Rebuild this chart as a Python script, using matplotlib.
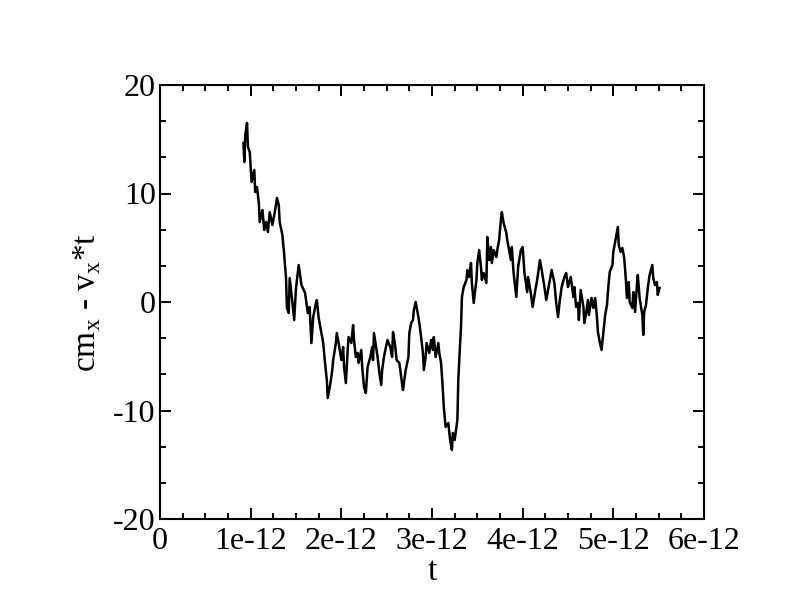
import matplotlib
matplotlib.use('Agg')
import matplotlib.pyplot as plt
import numpy as np
from matplotlib.ticker import MultipleLocator, FixedLocator, FixedFormatter

plt.rcParams['font.family'] = ['Liberation Serif', 'DejaVu Serif']
plt.rcParams['mathtext.fontset'] = 'custom'
plt.rcParams['mathtext.rm'] = 'Liberation Serif'
plt.rcParams['axes.unicode_minus'] = False

# time in units of 1e-12
t_ps = [0.92, 0.93, 0.94, 0.96, 0.97, 0.99, 1.00, 1.01, 1.04, 1.05,
        1.07, 1.09, 1.10, 1.13, 1.15, 1.17, 1.19, 1.21, 1.24, 1.27,
        1.29, 1.31, 1.32, 1.35, 1.37, 1.39, 1.40, 1.42, 1.43, 1.46,
        1.48, 1.50, 1.53, 1.56,
        1.60, 1.63, 1.65, 1.67, 1.69, 1.72, 1.73, 1.75, 1.78, 1.80,
        1.82, 1.84, 1.85, 1.88, 1.90, 1.91, 1.94, 1.95, 1.97, 2.00,
        2.02, 2.03, 2.05, 2.07, 2.08, 2.11, 2.13, 2.14, 2.16, 2.18,
        2.19, 2.22, 2.23, 2.25, 2.27, 2.29, 2.32, 2.34, 2.35, 2.36,
        2.40, 2.42, 2.44, 2.45, 2.47, 2.49, 2.51, 2.54, 2.56, 2.57,
        2.59, 2.61, 2.64, 2.66, 2.68, 2.69, 2.71, 2.74, 2.75, 2.77,
        2.79, 2.80, 2.82, 2.85, 2.86, 2.88, 2.90, 2.91, 2.93, 2.94,
        2.97, 2.99, 3.01, 3.02, 3.04, 3.07, 3.08, 3.10, 3.12, 3.13,
        3.15,
        3.18, 3.20, 3.22, 3.23, 3.25, 3.28, 3.29, 3.31, 3.32, 3.33,
        3.35, 3.38, 3.39, 3.41, 3.43, 3.44, 3.46, 3.49, 3.50, 3.52,
        3.54, 3.55, 3.57, 3.60, 3.61, 3.63, 3.65, 3.66, 3.68, 3.71,
        3.72, 3.74, 3.76, 3.77, 3.79, 3.82, 3.83, 3.85, 3.87, 3.88,
        3.90,
        3.93, 3.95, 3.98, 4.00, 4.02, 4.05, 4.06, 4.09, 4.11, 4.14,
        4.16, 4.19, 4.21, 4.24, 4.26, 4.28, 4.30, 4.32, 4.35, 4.37,
        4.39, 4.41, 4.43, 4.46, 4.48, 4.50, 4.53, 4.56, 4.57, 4.59,
        4.61, 4.62, 4.64, 4.67, 4.68, 4.70, 4.72,
        4.73, 4.76, 4.78, 4.80, 4.82, 4.83, 4.85, 4.87, 4.89, 4.91,
        4.93, 4.94, 4.96, 4.99, 5.00, 5.02, 5.04, 5.05, 5.06, 5.08,
        5.10, 5.12, 5.14, 5.15, 5.17, 5.18, 5.21, 5.22, 5.24, 5.26,
        5.27, 5.29, 5.32, 5.33, 5.34, 5.36, 5.38, 5.40, 5.43, 5.44,
        5.46, 5.48, 5.49, 5.51]

cm_x = [14.65, 12.90, 15.39, 16.50, 14.29, 13.82, 12.35, 11.06, 12.17, 10.14,
        10.60, 9.12, 7.37, 8.48, 6.64, 7.37, 6.45, 8.29, 7.10, 8.48,
        9.59, 8.94, 7.37, 6.18, 4.33, 2.21, -0.55, -1.01, 2.21, 0.00,
        -1.66, 1.29, 3.41, 1.57,
        0.83, -1.01, -0.46, -3.78, -1.38, -0.09, 0.18, -1.47, -2.86, -3.78,
        -5.62, -7.19, -8.85, -7.47, -6.27, -5.35, -3.78, -2.86, -3.78, -5.35,
        -4.15, -5.99, -7.47, -4.42, -3.23, -3.78, -2.12, -3.50, -5.07, -4.70,
        -5.62, -4.42, -5.99, -7.83, -8.39, -5.99, -5.07, -4.15, -5.35, -2.86,
        -5.07, -6.54, -7.65, -6.27, -5.07, -4.24, -3.50, -4.15, -5.07, -2.76,
        -3.78, -5.35, -5.62, -6.91, -8.11, -7.47, -6.27, -5.07, -2.86, -1.94,
        -1.66, -0.74, 0.00, -1.38, -1.94, -3.23, -4.70, -6.27, -5.07, -3.78,
        -4.70, -3.50, -4.42, -3.23, -5.07, -3.78, -4.70, -5.62, -8.11, -9.68,
        -11.52,
        -11.15, -12.72, -13.64, -12.07, -12.72, -10.88, -7.19, -3.78, -2.30, 0.46,
        1.38, 2.03, 2.95, 2.30, 3.59, 1.75, -0.09, 2.03, 3.59, 4.79,
        3.23, 2.03, 2.67, 1.75, 5.99, 3.87, 5.07, 3.59, 4.79, 4.15,
        4.79, 5.71, 7.56, 8.29, 7.28, 6.36, 5.71, 4.79, 3.87, 5.07,
        2.67,
        0.46, 3.23, 4.79, 5.07, 2.67, 0.92, 2.30, 0.83, -0.46, 1.11,
        2.03, 3.87, 2.95, 1.38, 0.18, 1.11, 2.03, 2.95, 1.75, -0.09,
        -1.38, 0.18, 1.38, 2.30, 2.67, 1.38, 2.30, 0.46, 1.38, -0.46,
        -0.09, -1.66, 1.11, -0.46, -1.94, -1.01, 0.18,
        -1.20, 0.37, -0.55, 0.37, -1.47, -2.76, -3.69, -4.42, -2.76, -1.20,
        -0.28, 0.92, 2.76, 3.41, 4.61, 5.53, 6.45, 6.91, 5.25, 4.61,
        4.98, 4.06, 1.84, 0.37, 1.84, 0.00, -0.55, 0.92, -0.92, 1.57,
        2.49, 0.37, -1.20, -3.04, -0.92, -0.28, 1.29, 2.49, 3.41, 2.21,
        1.57, 1.84, 0.65, 1.29]

x_ticks = [0, 1e-12, 2e-12, 3e-12, 4e-12, 5e-12, 6e-12]
x_tick_labels = ['0', '1e-12', '2e-12', '3e-12', '4e-12', '5e-12', '6e-12']
y_ticks = [-20, -10, 0, 10, 20]

t = np.array(t_ps) * 1e-12

fig = plt.figure(figsize=(7.92, 6.12), dpi=100)
ax = fig.add_axes([160 / 792, 93 / 612, 544 / 792, 434 / 612])
ax.plot(t, cm_x, color='black', linewidth=1.8)

ax.set_xlim(0, 6e-12)
ax.set_ylim(-20, 20)
ax.xaxis.set_major_locator(FixedLocator(x_ticks))
ax.xaxis.set_major_formatter(FixedFormatter(x_tick_labels))
ax.xaxis.set_minor_locator(MultipleLocator(0.25e-12))
ax.yaxis.set_major_locator(FixedLocator(y_ticks))
ax.yaxis.set_minor_locator(MultipleLocator(10 / 3))

ax.tick_params(which='both', direction='in', top=True, right=True,
               width=1.4, labelsize=23)
ax.tick_params(which='major', length=8)
ax.tick_params(which='minor', length=4.5)
ax.tick_params(axis='x', pad=6)
ax.tick_params(axis='y', pad=3)
for sp in ax.spines.values():
    sp.set_linewidth(1.5)

ax.set_xlabel('t', fontsize=24, labelpad=0)
ax.set_ylabel('cm$_{\\mathrm{x}}$ - v$_{\\mathrm{x}}$*t', fontsize=24)
ax.yaxis.set_label_coords(-0.105, 0.5)

plt.savefig('out.png', dpi=100)
